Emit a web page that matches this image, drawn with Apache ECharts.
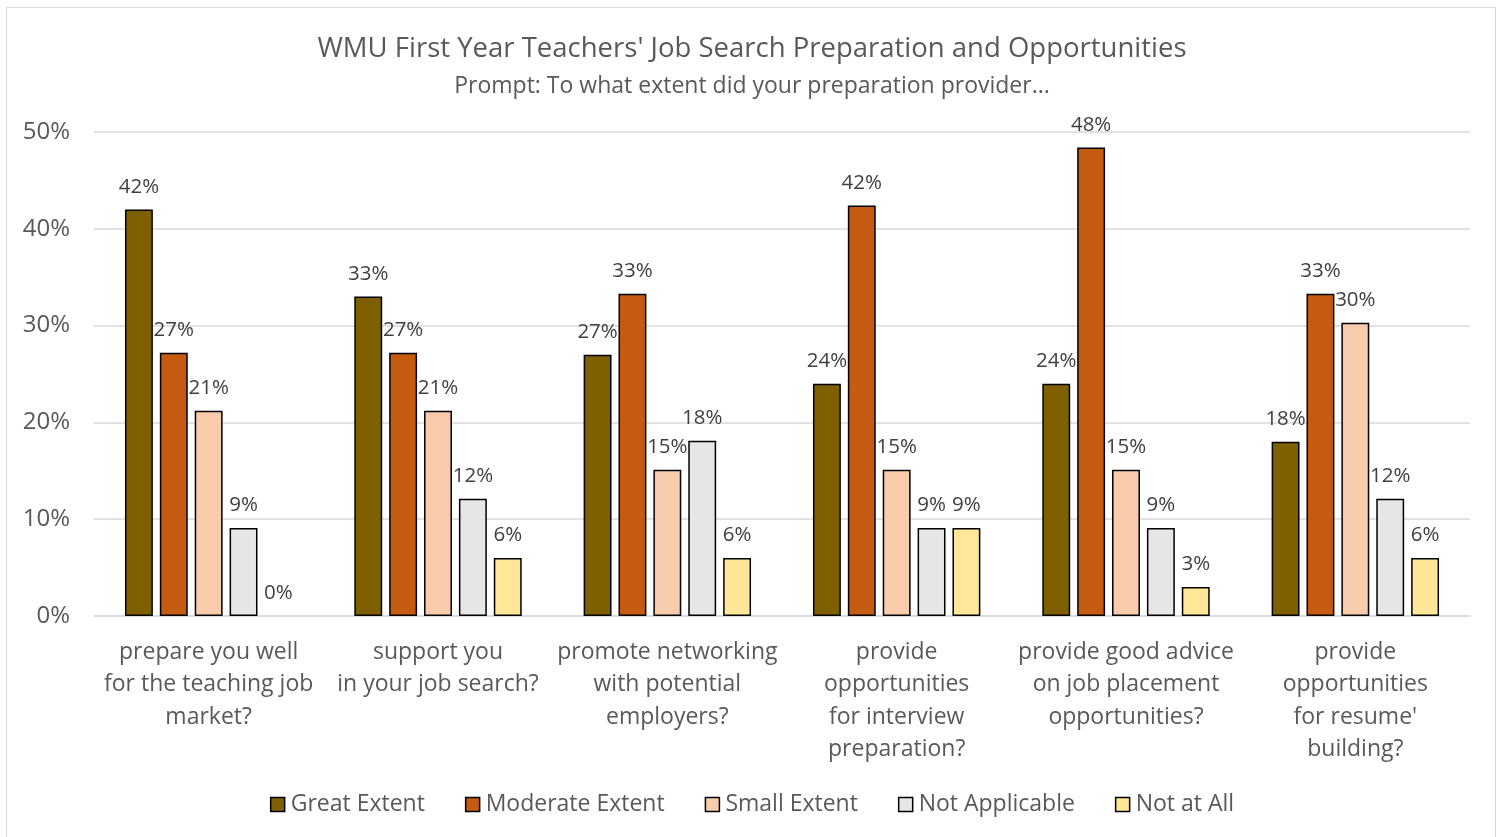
<!DOCTYPE html>
<html><head><meta charset="utf-8">
<script src="https://cdn.jsdelivr.net/npm/echarts@6/dist/echarts.min.js"></script>
<style>
html,body{margin:0;padding:0;background:#fff;}
#frame{position:absolute;left:6px;top:7px;width:1490px;height:835px;border:1px solid #d9d9d9;box-sizing:border-box;}
#c{position:absolute;left:0;top:0;width:1504px;height:837px;}
</style></head>
<body><div id="frame"></div><div id="c"></div>
<script>
var categories = [
  'prepare you well\nfor the teaching job\nmarket?',
  'support you\nin your job search?',
  'promote networking\nwith potential\nemployers?',
  'provide\nopportunities\nfor interview\npreparation?',
  'provide good advice\non job placement\nopportunities?',
  'provide\nopportunities\nfor resume\'\nbuilding?'
];
var greatExtent    = [42.0, 33.0, 27.0, 24.0, 24.0, 18.0];
var moderateExtent = [27.2, 27.2, 33.3, 42.4, 48.4, 33.3];
var smallExtent    = [21.2, 21.2, 15.1, 15.1, 15.1, 30.3];
var notApplicable  = [9.1, 12.1, 18.1, 9.1, 9.1, 12.1];
var notAtAll       = [0, 6.0, 6.0, 9.1, 3.0, 6.0];
var seriesNames = ['Great Extent','Moderate Extent','Small Extent','Not Applicable','Not at All'];
var seriesColors = ['#7F6000','#C55A11','#F8CBAD','#E7E6E6','#FFE699'];
var seriesData = [greatExtent, moderateExtent, smallExtent, notApplicable, notAtAll];

var FONT = '"Open Sans", sans-serif';
var chart = echarts.init(document.getElementById('c'));
chart.setOption({
  animation: false,
  title: [{
    text: "WMU First Year Teachers' Job Search Preparation and Opportunities",
    left: 'center', top: 30,
    textStyle: {fontFamily: FONT, fontSize: 27.5, fontWeight: 'normal', color: '#595959'}
  }, {
    text: 'Prompt: To what extent did your preparation provider...',
    left: 'center', top: 70,
    textStyle: {fontFamily: FONT, fontSize: 23, fontWeight: 'normal', color: '#595959'}
  }],
  legend: {
    bottom: 16, left: 'center', itemGap: 40, itemWidth: 14, itemHeight: 14,
    icon: 'rect',
    itemStyle: {borderColor: '#000', borderWidth: 1.5},
    textStyle: {fontFamily: FONT, fontSize: 23, color: '#595959', padding: [0,0,0,1]},
    data: seriesNames
  },
  grid: {left: 94, right: 34, top: 132, bottom: 221},
  xAxis: {
    type: 'category', data: categories,
    axisTick: {show: false},
    axisLine: {lineStyle: {color: '#d9d9d9', width: 1.5}},
    axisLabel: {fontFamily: FONT, fontSize: 23, color: '#595959', lineHeight: 32.5, margin: 20, interval: 0}
  },
  yAxis: {
    type: 'value', min: 0, max: 50, interval: 10,
    axisLabel: {formatter: '{value}%', fontFamily: FONT, fontSize: 24, color: '#595959', margin: 24},
    splitLine: {lineStyle: {color: '#d9d9d9', width: 1.5}},
    axisLine: {show: false}, axisTick: {show: false}
  },
  series: seriesNames.map(function(n, i){
    return {
      name: n, type: 'bar',
      data: seriesData[i].map(function(v){
        return v === 0 ? {value: v, itemStyle: {borderWidth: 0}} : v;
      }),
      barGap: '25%', barCategoryGap: '27%',
      itemStyle: {color: seriesColors[i], borderColor: '#000', borderWidth: 1.5},
      label: {show: true, position: 'top', distance: 12,
        fontFamily: FONT, fontSize: 20.5, color: '#404040',
        formatter: function(p){ return Math.round(p.value) + '%'; }}
    };
  })
});
</script></body></html>
